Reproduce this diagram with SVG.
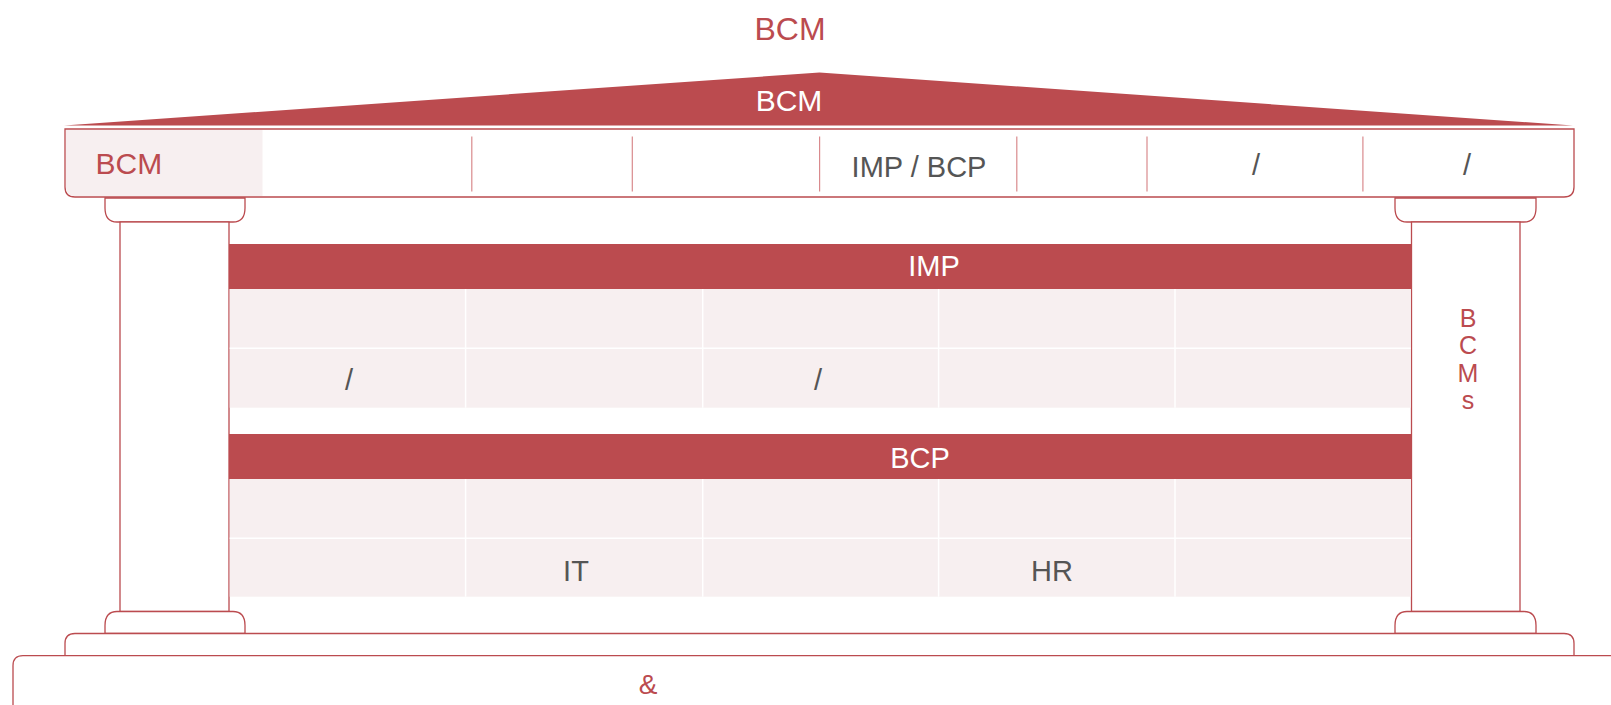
<svg xmlns="http://www.w3.org/2000/svg" width="1611" height="705" viewBox="0 0 1611 705">
<style>
text{font-family:"Liberation Sans",Arial,sans-serif;}
.red{fill:#BB4B4F;}
.white{fill:#FFFFFF;}
.gray{fill:#555555;}
.ol{fill:#FFFFFF;stroke:#BB4B4F;stroke-width:1.3;}
.div{stroke:#D98A8D;stroke-width:1.2;}
.cell{fill:#F7EFF0;}
.wl{stroke:#FFFFFF;stroke-width:1.5;}
.bar{fill:#BB4B4F;}
</style>
<rect width="1611" height="705" fill="#FFFFFF"/>

<g id="title">
<text x="790" y="40" font-size="32" text-anchor="middle" class="red">BCM</text>
</g>

<g id="roof">
<polygon points="64,125.5 819.5,72.5 1573,125.5" class="bar"/>
<text x="789" y="111" font-size="30" text-anchor="middle" class="white">BCM</text>
</g>

<g id="beam">
<path d="M65,129 H1574 V187 Q1574,197 1564,197 H75 Q65,197 65,187 Z" class="ol"/>
<path d="M66,130 H262.5 V196 H75 Q66,196 66,187 Z" class="cell"/>
<text x="95.5" y="174" font-size="30" class="red">BCM</text>
<line x1="471.8" y1="136.5" x2="471.8" y2="191.5" class="div"/>
<line x1="632.3" y1="136.5" x2="632.3" y2="191.5" class="div"/>
<line x1="819.6" y1="136.5" x2="819.6" y2="191.5" class="div"/>
<line x1="1016.8" y1="136.5" x2="1016.8" y2="191.5" class="div"/>
<line x1="1147" y1="136.5" x2="1147" y2="191.5" class="div"/>
<line x1="1362.9" y1="136.5" x2="1362.9" y2="191.5" class="div"/>
<text x="919" y="176.5" font-size="29" text-anchor="middle" class="gray">IMP / BCP</text>
<text x="1256" y="175" font-size="29" text-anchor="middle" class="gray">/</text>
<text x="1467" y="175" font-size="29" text-anchor="middle" class="gray">/</text>
</g>

<g id="left-column">
<path d="M105,198 H245 V208 Q245,222 233,222 H117 Q105,222 105,208 Z" class="ol"/>
<rect x="120" y="222" width="109" height="389.5" class="ol"/>
<path d="M105,633.5 V625.5 Q105,611.5 117,611.5 H233 Q245,611.5 245,625.5 V633.5 Z" class="ol"/>
</g>

<g id="right-column">
<path d="M1395,198 H1536 V208 Q1536,222 1524,222 H1407 Q1395,222 1395,208 Z" class="ol"/>
<rect x="1411.5" y="222" width="108.5" height="389.5" class="ol"/>
<path d="M1395,633.5 V625.5 Q1395,611.5 1407,611.5 H1524 Q1536,611.5 1536,625.5 V633.5 Z" class="ol"/>
<text font-size="25" text-anchor="middle" class="red"><tspan x="1468" y="327">B</tspan><tspan x="1468" y="354">C</tspan><tspan x="1468" y="381.5">M</tspan><tspan x="1468" y="409">s</tspan></text>
</g>

<g id="imp">
<rect x="229" y="244" width="1182.5" height="45" class="bar"/>
<text x="934" y="275.5" font-size="29" text-anchor="middle" class="white">IMP</text>
<rect x="229.7" y="289" width="1181" height="118.7" class="cell"/>
<line x1="229.7" y1="348.3" x2="1410.7" y2="348.3" class="wl"/>
<line x1="465.6" y1="289" x2="465.6" y2="407.7" class="wl"/>
<line x1="702.7" y1="289" x2="702.7" y2="407.7" class="wl"/>
<line x1="938.6" y1="289" x2="938.6" y2="407.7" class="wl"/>
<line x1="1175" y1="289" x2="1175" y2="407.7" class="wl"/>
<text x="349" y="390" font-size="29" text-anchor="middle" class="gray">/</text>
<text x="818" y="390" font-size="29" text-anchor="middle" class="gray">/</text>
</g>

<g id="bcp">
<rect x="229" y="434" width="1182.5" height="45" class="bar"/>
<text x="920" y="468.3" font-size="29" text-anchor="middle" class="white">BCP</text>
<rect x="229.7" y="479" width="1181" height="117.7" class="cell"/>
<line x1="229.7" y1="538.3" x2="1410.7" y2="538.3" class="wl"/>
<line x1="465.6" y1="479" x2="465.6" y2="596.7" class="wl"/>
<line x1="702.7" y1="479" x2="702.7" y2="596.7" class="wl"/>
<line x1="938.6" y1="479" x2="938.6" y2="596.7" class="wl"/>
<line x1="1175" y1="479" x2="1175" y2="596.7" class="wl"/>
<text x="576" y="581" font-size="29" text-anchor="middle" class="gray">IT</text>
<text x="1052" y="581" font-size="29" text-anchor="middle" class="gray">HR</text>
</g>

<g id="stylobate">
<path d="M65,655.7 V643.5 Q65,633.5 75,633.5 H1564 Q1574,633.5 1574,643.5 V655.7 Z" class="ol"/>
</g>

<g id="foundation">
<path d="M13,720 V665.7 Q13,655.7 23,655.7 H1620" class="ol"/>
<text x="648" y="694" font-size="28" text-anchor="middle" class="red">&amp;</text>
</g>
</svg>
